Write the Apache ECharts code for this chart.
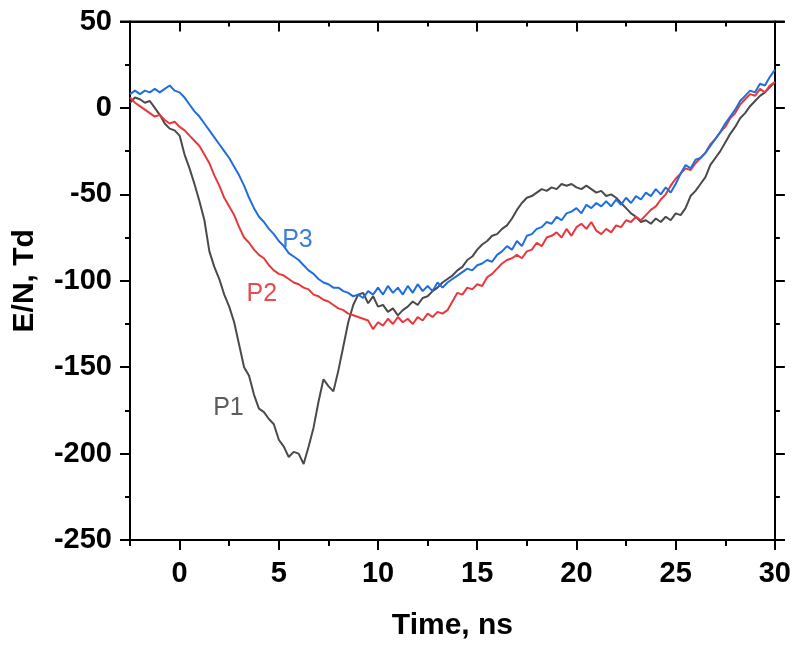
<!DOCTYPE html>
<html>
<head>
<meta charset="utf-8">
<script src="https://cdn.jsdelivr.net/npm/echarts@6/dist/echarts.min.js"></script>
<style>html,body{margin:0;padding:0;background:#fff;}#c{width:794px;height:647px;}</style>
</head>
<body>
<div id="c"></div>
<script>
// Time samples (ns)
const timeNs = [-2.5,-2.25,-2,-1.75,-1.5,-1.25,-1,-0.75,-0.5,-0.25,0,0.25,0.5,0.75,1,1.25,1.5,1.75,2,2.25,2.5,2.75,3,3.25,3.5,3.75,4,4.25,4.5,4.75,5,5.25,5.5,5.75,6,6.25,6.5,6.75,7,7.25,7.5,7.75,8,8.25,8.5,8.75,9,9.25,9.5,9.75,10,10.25,10.5,10.75,11,11.25,11.5,11.75,12,12.25,12.5,12.75,13,13.25,13.5,13.75,14,14.25,14.5,14.75,15,15.25,15.5,15.75,16,16.25,16.5,16.75,17,17.25,17.5,17.75,18,18.25,18.5,18.75,19,19.25,19.5,19.75,20,20.25,20.5,20.75,21,21.25,21.5,21.75,22,22.25,22.5,22.75,23,23.25,23.5,23.75,24,24.25,24.5,24.75,25,25.25,25.5,25.75,26,26.25,26.5,26.75,27,27.25,27.5,27.75,28,28.25,28.5,28.75,29,29.25,29.5,29.75,30];

// E/N (Td) for each probe
const p1 = [3,6,5,3,4,0,-4,-9,-12,-13,-16,-27,-35,-44,-54,-65,-83,-92,-99,-108,-115,-124,-137,-150,-155,-166,-174,-176,-180,-183,-192,-196,-202,-199,-200,-206,-196,-185,-170,-157,-161,-164,-152,-138,-124,-114,-108,-107,-113,-109,-115,-114,-118,-116,-120,-117,-115,-112,-114,-110,-109,-106,-104,-101,-99,-97,-94,-92,-88,-86,-82,-79,-77,-74,-73,-70,-68,-64,-59,-55,-52,-51,-49,-47,-48,-46,-47,-44,-45,-44,-46,-47,-45,-47,-49,-48,-51,-50,-52,-55,-58,-61,-63,-66,-65,-67,-64,-66,-63,-65,-61,-62,-58,-51,-48,-44,-40,-33,-29,-25,-20,-15,-11,-6,-3,1,4,7,9,12,15];

const p2 = [6,3,1,-1,-3,-5,-4,-7,-9,-8,-11,-13,-16,-19,-22,-27,-32,-39,-45,-52,-57,-62,-69,-75,-78,-82,-85,-87,-91,-94,-96,-97,-99,-101,-102,-104,-105,-108,-109,-111,-112,-114,-116,-117,-119,-120,-121,-122,-123,-128,-124,-126,-122,-125,-121,-124,-122,-125,-121,-123,-119,-121,-118,-119,-117,-112,-107,-108,-104,-105,-102,-103,-98,-96,-93,-90,-88,-87,-85,-87,-83,-82,-78,-80,-75,-74,-72,-75,-70,-74,-69,-67,-70,-66,-71,-73,-70,-72,-68,-69,-65,-66,-63,-65,-62,-59,-57,-53,-50,-45,-41,-38,-35,-36,-32,-29,-26,-21,-18,-14,-11,-6,-3,2,5,8,7,11,9,13,15];

const p3 = [8,10,8,10,9,11,9,11,13,10,9,6,2,-2,-5,-9,-13,-17,-21,-25,-29,-34,-39,-45,-52,-58,-63,-66,-70,-73,-77,-80,-84,-86,-88,-91,-94,-96,-99,-101,-102,-104,-104,-106,-107,-109,-108,-110,-106,-108,-104,-108,-103,-107,-104,-108,-103,-107,-102,-106,-103,-106,-101,-104,-101,-99,-97,-95,-93,-94,-91,-90,-88,-89,-85,-83,-80,-82,-77,-80,-74,-73,-70,-69,-66,-67,-63,-65,-61,-60,-58,-61,-56,-58,-55,-57,-54,-57,-53,-56,-52,-55,-51,-53,-49,-51,-47,-50,-46,-49,-44,-38,-33,-35,-30,-29,-26,-22,-18,-14,-9,-5,-1,4,7,10,9,14,13,18,22];

const seriesNames = ['P1','P2','P3'];
const seriesColors = ['#4a4a4a','#e8383d','#1f6ee0'];
const labelColors = ['#5c5c5c','#e84a4e','#3a7fdc'];
// label anchor (time, E/N) for each curve label
const labelAnchors = [[1.69,-173.5],[3.37,-108],[5.17,-76.7]];

const xMajorTicks = [0,5,10,15,20,25,30];
const xMinorTicks = [-2.5,2.5,7.5,12.5,17.5,22.5,27.5];
const xRange = [-2.5, 30];
const yRange = [-250, 50];

const FONT = 'Liberation Sans, Arial, sans-serif';
const chart = echarts.init(document.getElementById('c'), null, {renderer:'canvas'});

function pairs(v){ return timeNs.map((t,i)=>[t,v[i]]); }
const allData = [p1,p2,p3];

const lineStyleAxis = {color:'#000', width:2};
const option = {
  animation:false,
  backgroundColor:'#fff',
  grid:{left:130, right:19, top:21.5, bottom:107, containLabel:false},
  xAxis:[
    {type:'value', position:'bottom', min:xRange[0], max:xRange[1],
     name:'Time, ns', nameLocation:'middle', nameGap:71,
     nameTextStyle:{fontFamily:FONT, fontWeight:'bold', fontSize:30, color:'#000'},
     axisLine:{show:true, onZero:false, lineStyle:lineStyleAxis},
     axisTick:{show:true, inside:false, length:10, lineStyle:{color:'#000',width:2}, customValues:xMajorTicks},
     axisLabel:{show:true, margin:19, customValues:xMajorTicks, fontFamily:FONT, fontWeight:'bold', fontSize:29, color:'#000'},
     splitLine:{show:false}},
    {type:'value', position:'bottom', min:xRange[0], max:xRange[1],
     axisLine:{show:false, onZero:false},
     axisTick:{show:true, inside:false, length:6, lineStyle:{color:'#000',width:2}, customValues:xMinorTicks},
     axisLabel:{show:false}, splitLine:{show:false}},
    {type:'value', position:'top', min:xRange[0], max:xRange[1],
     axisLine:{show:true, onZero:false, lineStyle:lineStyleAxis},
     axisTick:{show:true, inside:true, length:10, lineStyle:{color:'#000',width:2}, customValues:xMajorTicks},
     axisLabel:{show:false}, splitLine:{show:false}},
    {type:'value', position:'top', min:xRange[0], max:xRange[1],
     axisLine:{show:false, onZero:false},
     axisTick:{show:true, inside:true, length:5, lineStyle:{color:'#000',width:2}, customValues:xMinorTicks},
     axisLabel:{show:false}, splitLine:{show:false}}
  ],
  yAxis:[
    {type:'value', position:'left', min:yRange[0], max:yRange[1], interval:50,
     name:'E/N, Td', nameLocation:'middle', nameGap:90, nameRotate:90,
     nameTextStyle:{fontFamily:FONT, fontWeight:'bold', fontSize:30, color:'#000'},
     axisLine:{show:true, onZero:false, lineStyle:lineStyleAxis},
     axisTick:{show:true, inside:false, length:10, lineStyle:{color:'#000',width:2}},
     minorTick:{show:true, splitNumber:2, length:5, lineStyle:{color:'#000',width:2}},
     axisLabel:{show:true, margin:18, fontFamily:FONT, fontWeight:'bold', fontSize:29, color:'#000'},
     splitLine:{show:false}},
    {type:'value', position:'right', min:yRange[0], max:yRange[1], interval:50,
     axisLine:{show:true, onZero:false, lineStyle:lineStyleAxis},
     axisTick:{show:true, inside:false, length:10, lineStyle:{color:'#000',width:2}},
     minorTick:{show:true, splitNumber:2, length:5, lineStyle:{color:'#000',width:2}},
     axisLabel:{show:false}, splitLine:{show:false}}
  ],
  series: seriesNames.map((n,i)=>({
    name:n, type:'line', xAxisIndex:0, yAxisIndex:0,
    data:pairs(allData[i]), showSymbol:false, symbol:'none',
    lineStyle:{color:seriesColors[i], width:2}, itemStyle:{color:seriesColors[i]},
    z: 2 + i
  }))
};
chart.setOption(option);

const graphics = seriesNames.map((n,i)=>{
  const p = chart.convertToPixel({xAxisIndex:0, yAxisIndex:0}, labelAnchors[i]);
  return {type:'text', x:p[0], y:p[1], z:10,
    style:{text:n, fill:labelColors[i], font:'25px ' + FONT, textAlign:'left', textVerticalAlign:'middle', verticalAlign:'middle'}};
});
// frame overshoot: horizontal axis lines extend past the vertical axes by the tick length
const bl = chart.convertToPixel({xAxisIndex:0, yAxisIndex:0}, [xRange[0], yRange[0]]);
const tr = chart.convertToPixel({xAxisIndex:0, yAxisIndex:0}, [xRange[1], yRange[1]]);
const ext = 10;
[bl[1], tr[1]].forEach(yy=>{
  graphics.push({type:'line', z:20, shape:{x1:bl[0]-ext, y1:yy, x2:tr[0]+ext, y2:yy}, style:{stroke:'#000', lineWidth:2}});
});
chart.setOption({graphic:graphics});
</script>
</body>
</html>
